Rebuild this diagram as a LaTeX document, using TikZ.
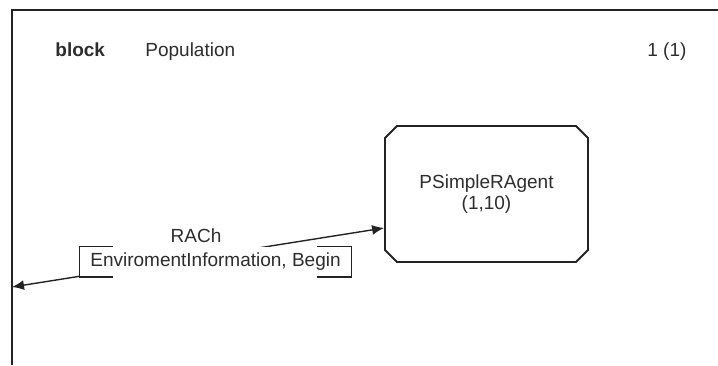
\documentclass[tikz,border=0pt]{standalone}
\usepackage{fontspec}
\setmainfont{Liberation Sans}
\usetikzlibrary{shapes,arrows.meta,positioning,calc}
\definecolor{sdlline}{RGB}{35,35,35}
\definecolor{sdltext}{RGB}{45,45,45}

\begin{document}
\begin{tikzpicture}[x=0.5pt,y=-0.5pt,
    font=\fontsize{9.5}{10.5}\selectfont, text=sdltext,
    frame/.style={draw=sdlline, line width=1pt},
    process/.style={draw=sdlline, line width=0.9pt, chamfered rectangle,
        chamfered rectangle xsep=3pt, chamfered rectangle ysep=3pt,
        minimum width=101.5pt, minimum height=68pt, inner sep=0pt, align=center},
    signal/.style={draw=sdlline, line width=0.7pt, {Latex[length=6pt,width=5pt]}-{Latex[length=6pt,width=5pt]}},
    bracket/.style={draw=sdlline, line width=0.8pt},
    siglabel/.style={fill=white, inner sep=0pt, minimum width=135.5pt, minimum height=15pt}]
\useasboundingbox (0,0) rectangle (718,365);
\draw[frame] (12,365) |- (718,10);
\coordinate (env) at (12,287);

\node[anchor=base west, inner sep=0pt, font=\fontsize{9.5}{10.5}\selectfont\bfseries] (kind) at (55,56) {block};
\node[anchor=base west, inner sep=0pt] (name) at (145,56) {Population};
\node[anchor=base west, inner sep=0pt] (page) at (647,56) {1 (1)};

\node[process] (agent) at (486.5,194) {PSimpleRAgent\\(1,10)};

\draw[signal] (env) -- ([yshift=-17pt]agent.west);
\node[siglabel] (siglist) at (215.5,261.7) {EnviromentInformation, Begin};
\draw[bracket] ([xshift=16.5pt]siglist.north west) -- (siglist.north west)
    -- (siglist.south west) -- ++(16.5pt,0);
\draw[bracket] ([xshift=-17pt]siglist.north east) -- (siglist.north east)
    -- (siglist.south east) -- ++(-17pt,0);
\node (chan) at (196,236) {RACh};
\end{tikzpicture}
\end{document}
